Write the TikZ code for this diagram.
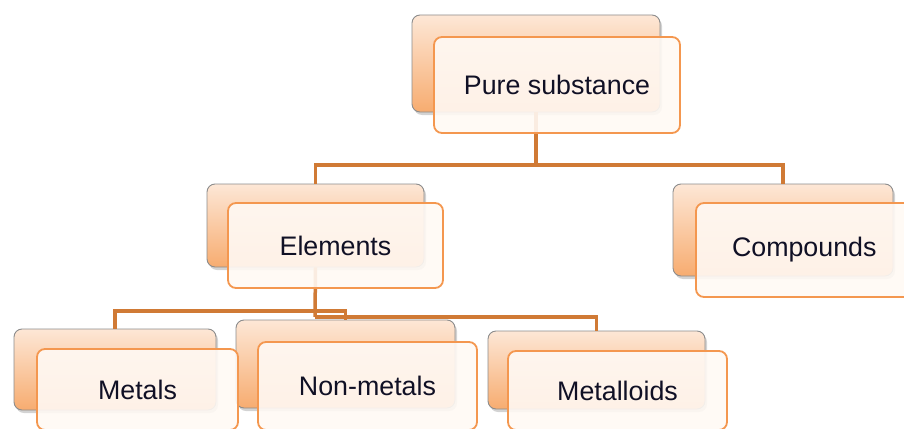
\documentclass[tikz,border=0pt]{standalone}
\usepackage{fontspec}
\setmainfont{Liberation Sans}
\usetikzlibrary{shadows}
\definecolor{conncol}{HTML}{D07A35}
\definecolor{frontline}{HTML}{F4974F}
\definecolor{frontfill}{HTML}{FFF9F4}
\definecolor{backtop}{HTML}{FDE7D6}
\definecolor{backbot}{HTML}{F7AC70}
\definecolor{backline}{HTML}{8C8C8C}
\definecolor{txt}{HTML}{101025}
\tikzset{
  x=1pt, y=-1pt,
  conn/.style={draw=conncol, line width=3.5pt},
  backcard/.style={draw=backline, line width=0.9pt, rounded corners=8pt,
    top color=backtop, bottom color=backbot, inner sep=0pt,
    drop shadow={shadow xshift=2pt, shadow yshift=-3pt, opacity=0.35}},
  frontcard/.style={draw=frontline, line width=1.8pt, rounded corners=8pt,
    fill=frontfill, fill opacity=0.9, text opacity=1, text=txt, inner sep=0pt,
    font=\fontsize{26.8}{30}\selectfont},
}
\begin{document}
\begin{tikzpicture}
\useasboundingbox (0,0) rectangle (904,428);
\clip (0,0) rectangle (904,428);
% back cards
\node[backcard, minimum width=248pt, minimum height=97pt] (pureB) at (536,63.5) {};
\node[backcard, minimum width=217pt, minimum height=83pt] (elemB) at (315.5,225.5) {};
\node[backcard, minimum width=220pt, minimum height=92pt] (compB) at (783,230) {};
\node[backcard, minimum width=202pt, minimum height=81pt] (metB) at (115,369.5) {};
\node[backcard, minimum width=219pt, minimum height=88pt] (nonB) at (345.5,364) {};
\node[backcard, minimum width=217pt, minimum height=78pt] (mlB) at (596.5,370) {};
% connectors
\coordinate (j1) at (536,165);
\coordinate (j2) at (315,311);
\coordinate (j3) at (315,317);
\draw[conn] (pureB.south) -- (j1);
\draw[conn] (j1) -| (elemB.north);
\draw[conn] (j1) -| (compB.north);
\draw[conn] (elemB.south) -- (j3);
\draw[conn] (j2) -| (metB.north);
\draw[conn] (j2) -| (nonB.north);
\draw[conn] (j3) -| (mlB.north);
% front cards
\node[frontcard, minimum width=246pt, minimum height=96pt] (pureF) at (557,85) {Pure substance};
\node[frontcard, minimum width=215pt, minimum height=85pt] (elemF) at (335.5,245.5) {Elements};
\node[frontcard, minimum width=232pt, minimum height=94pt, text width=220pt, align=left] (compF) at (812,250) {\hspace*{30pt}Compounds};
\node[frontcard, minimum width=201pt, minimum height=81pt] (metF) at (137.5,389.5) {Metals};
\node[frontcard, minimum width=219pt, minimum height=88pt] (nonF) at (367.5,386) {Non-metals};
\node[frontcard, minimum width=219pt, minimum height=79pt] (mlF) at (617.5,390.5) {Metalloids};
\end{tikzpicture}
\end{document}
